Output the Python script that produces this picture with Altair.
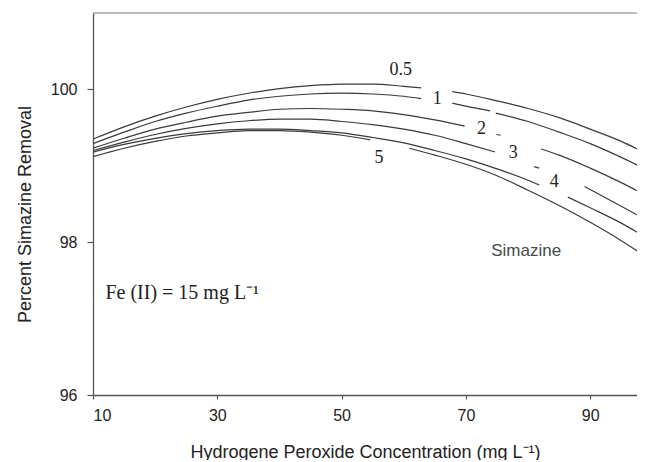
import altair as alt
import pandas as pd

# ---- curves, each split into visible segments ----
c05_x = [10, 15, 20, 25, 30, 35, 40, 45, 50, 55, 60, 62.8, 67.8, 70, 75, 80, 85, 90, 95, 98.8]
c05_y = [99.35, 99.51, 99.65, 99.77, 99.87, 99.95, 100.01, 100.05, 100.07, 100.07, 100.04, 100.02,
         99.97, 99.94, 99.85, 99.75, 99.63, 99.48, 99.32, 99.17]
c05_s = [0] * 12 + [1] * 8

c1_x = [10, 15, 20, 25, 30, 35, 40, 45, 50, 55, 60, 62.8, 67.8, 70, 73.9, 74.8, 80, 85, 90, 95, 98.8]
c1_y = [99.29, 99.44, 99.58, 99.69, 99.78, 99.86, 99.91, 99.94, 99.95, 99.94, 99.91, 99.88,
        99.82, 99.78, 99.72, 99.69, 99.58, 99.44, 99.29, 99.11, 98.96]
c1_s = [0] * 12 + [1] * 3 + [2] * 6

c2_x = [10, 15, 20, 25, 30, 35, 40, 45, 50, 55, 60, 65, 69.8, 74.9, 75.6, 82.1, 85, 90, 95, 98.8]
c2_y = [99.23, 99.36, 99.48, 99.57, 99.65, 99.70, 99.74, 99.75, 99.74, 99.72, 99.67, 99.60, 99.52,
        99.41, 99.40, 99.22, 99.14, 98.97, 98.78, 98.62]
c2_s = [0] * 13 + [1] * 2 + [2] * 5

c3_x = [10, 15, 20, 25, 30, 35, 40, 45, 50, 55, 60, 65, 70, 74.7, 81.0, 81.8, 89.1, 95, 98.8]
c3_y = [99.20, 99.31, 99.41, 99.49, 99.55, 99.59, 99.61, 99.61, 99.58, 99.54, 99.48, 99.40, 99.29, 99.18,
        98.99, 98.97, 98.73, 98.47, 98.30]
c3_s = [0] * 14 + [1] * 2 + [2] * 3

c4_x = [10, 15, 20, 25, 30, 35, 40, 45, 50, 55, 60, 65, 70, 75, 80, 81.8, 86.4, 90, 95, 98.8]
c4_y = [99.18, 99.28, 99.36, 99.42, 99.46, 99.48, 99.48, 99.46, 99.43, 99.37, 99.30, 99.20, 99.09, 98.96,
        98.81, 98.75, 98.59, 98.45, 98.25, 98.07]
c4_s = [0] * 16 + [1] * 4

c5_x = [10, 15, 20, 25, 30, 35, 40, 45, 50, 54.6, 60.9, 65, 70, 75, 80, 85, 90, 95, 98.8]
c5_y = [99.12, 99.23, 99.32, 99.39, 99.43, 99.46, 99.46, 99.44, 99.40, 99.34,
        99.23, 99.14, 99.02, 98.87, 98.68, 98.48, 98.26, 98.02, 97.82]
c5_s = [0] * 10 + [1] * 9

curve_names = ["0.5", "1", "2", "3", "4", "5"]
curve_data = [(c05_x, c05_y, c05_s), (c1_x, c1_y, c1_s), (c2_x, c2_y, c2_s),
              (c3_x, c3_y, c3_s), (c4_x, c4_y, c4_s), (c5_x, c5_y, c5_s)]

# contour labels
label_text = ["0.5", "1", "2", "3", "4", "5"]
label_x = [59.5, 65.4, 72.5, 77.6, 84.2, 56.0]
label_y = [100.25, 99.87, 99.48, 99.17, 98.79, 99.10]

# annotations
note_text = ["Fe (II) = 15 mg L\u207b\u00b9"]
note_x = [12.0]
note_y = [97.26]
tag_text = ["Simazine"]
tag_x = [79.7]
tag_y = [97.88]

x_ticks = [10, 30, 50, 70, 90]
y_ticks = [96, 98, 100]

PLOT_W = 544
PLOT_H = 382

rows = []
for name, (xs_, ys_, ss_) in zip(curve_names, curve_data):
    for xv, yv, sv in zip(xs_, ys_, ss_):
        rows.append({"x": xv, "y": yv, "curve": name, "key": f"{name}-{sv}"})
lines_df = pd.DataFrame(rows)
labels_df = pd.DataFrame({"x": label_x, "y": label_y, "t": label_text})
note_df = pd.DataFrame({"x": note_x, "y": note_y, "t": note_text})
tag_df = pd.DataFrame({"x": tag_x, "y": tag_y, "t": tag_text})

xs = alt.Scale(domain=[10, 97.53], nice=False, zero=False)
ys = alt.Scale(domain=[96, 101], nice=False, zero=False)

X = alt.X("x:Q", scale=xs, axis=alt.Axis(
    values=x_ticks, title="Hydrogene Peroxide Concentration (mg L\u207b\u00b9)",
    tickSize=4, labelPadding=8, titlePadding=20, grid=False))
Y = alt.Y("y:Q", scale=ys, axis=alt.Axis(
    values=y_ticks, format="d", title="Percent Simazine Removal",
    tickSize=6, labelPadding=10, titlePadding=16, titleY=201, grid=False))

lines = alt.Chart(lines_df).mark_line(
    color="#3a3a3a", strokeWidth=1.2, interpolate="monotone", clip=True
).encode(x=X, y=Y, detail="key:N")

labels = alt.Chart(labels_df).mark_text(
    font="Liberation Serif", fontSize=18, color="#222222", baseline="middle", align="center"
).encode(x="x:Q", y="y:Q", text="t:N")

note = alt.Chart(note_df).mark_text(
    font="Liberation Serif", fontSize=20, color="#222222", baseline="alphabetic", align="left"
).encode(x="x:Q", y="y:Q", text="t:N")

tag = alt.Chart(tag_df).mark_text(
    font="Liberation Sans", fontSize=17, color="#4a4a4a", baseline="middle", align="center"
).encode(x="x:Q", y="y:Q", text="t:N")

top_border = alt.Chart(pd.DataFrame({"a": [0]})).mark_rule(
    color="#777777", strokeWidth=1
).encode(x=alt.value(0), x2=alt.value(PLOT_W + 10), y=alt.value(0))

chart = alt.layer(lines, labels, note, tag, top_border).properties(
    width=PLOT_W, height=PLOT_H,
    padding={"left": 85, "top": 5, "right": 0, "bottom": 65},
    autosize=alt.AutoSizeParams(type="none"),
    background="white",
).configure_view(
    strokeOpacity=0
).configure_axis(
    domainColor="#555555", domainWidth=1.3, tickColor="#555555", tickWidth=1.2,
    labelFont="Liberation Sans", labelFontSize=16, labelColor="#222222",
    titleFont="Liberation Sans", titleFontSize=18, titleFontWeight="normal", titleColor="#222222",
)

chart.save("out.html", embed_options={"renderer": "svg", "actions": False})
